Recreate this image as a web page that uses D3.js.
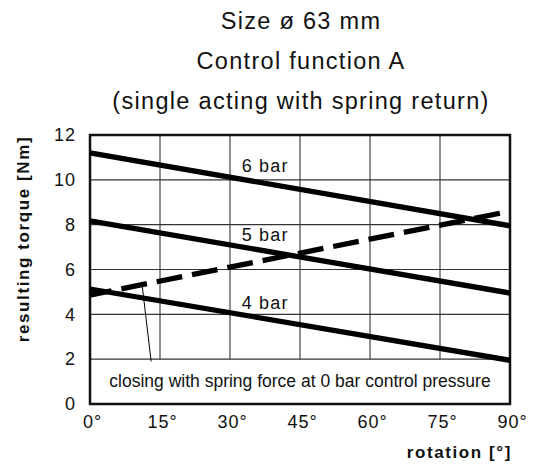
<!DOCTYPE html>
<html>
<head>
<meta charset="utf-8">
<script src="https://cdn.jsdelivr.net/npm/d3@7"></script>
<style>
  body { margin: 0; background: #fff; }
  svg { display: block; font-family: 'Liberation Sans', Arial, Helvetica, sans-serif; }
  .title { font-size: 23.5px; letter-spacing: 1.3px; fill: #111; }
  .tick text { font-size: 18px; letter-spacing: 1px; fill: #111; }
  .axis-label { font-size: 17px; font-weight: bold; letter-spacing: 1.6px; fill: #111; }
  .bar-label { font-size: 18px; letter-spacing: 1.2px; fill: #111; }
  .note { font-size: 17.5px; fill: #111; }
</style>
</head>
<body>
<svg width="533" height="465"></svg>
<script>
(function () {

const titleLines = ['Size ø 63 mm', 'Control function A', '(single acting with spring return)'];

const xTicks = [0, 15, 30, 45, 60, 75, 90];
const yTicks = [0, 2, 4, 6, 8, 10, 12];

// torque at 0° and 90° rotation
const rotation = [0, 90];
const torque6bar = [11.2, 7.95];
const torque5bar = [8.17, 4.95];
const torque4bar = [5.13, 1.95];
const torqueSpring = [4.86, 8.6];

const barSeries = [
  {name: '6 bar', values: torque6bar},
  {name: '5 bar', values: torque5bar},
  {name: '4 bar', values: torque4bar}
];

const noteText = 'closing with spring force at 0 bar control pressure';

const svg = d3.select('svg'),
    margin = {top: 135, right: 23, bottom: 61, left: 90},
    width = +svg.attr('width') - margin.left - margin.right,
    height = +svg.attr('height') - margin.top - margin.bottom;

const x = d3.scaleLinear().domain([0, 90]).range([0, width]);
const y = d3.scaleLinear().domain([0, 12]).range([height, 0]);

// titles
svg.selectAll('.title')
  .data(titleLines)
  .enter().append('text')
    .attr('class', 'title')
    .attr('x', margin.left + width / 2 + 1)
    .attr('y', function(d, i) { return 29 + i * 40; })
    .attr('text-anchor', 'middle')
    .text(function(d) { return d; });

const g = svg.append('g')
  .attr('transform', 'translate(' + margin.left + ',' + margin.top + ')');

// grid
g.append('g').selectAll('line')
  .data(yTicks.filter(function(d) { return d > 0 && d < 12; }))
  .enter().append('line')
    .attr('x1', 0).attr('x2', width)
    .attr('y1', function(d) { return y(d); })
    .attr('y2', function(d) { return y(d); })
    .attr('stroke', '#333').attr('stroke-width', 1.1);

g.append('g').selectAll('line')
  .data(xTicks.filter(function(d) { return d > 0 && d < 90; }))
  .enter().append('line')
    .attr('x1', function(d) { return x(d); })
    .attr('x2', function(d) { return x(d); })
    .attr('y1', y(2)).attr('y2', y(12))
    .attr('stroke', '#333').attr('stroke-width', 1.1);

// axes (labels only)
g.append('g')
  .attr('transform', 'translate(0,' + height + ')')
  .call(d3.axisBottom(x).tickValues(xTicks).tickSize(0).tickPadding(11)
    .tickFormat(function(d) { return d + '°'; }))
  .call(function(a) { a.select('.domain').remove(); })
  .selectAll('text').attr('dx', 2);

g.append('g')
  .call(d3.axisLeft(y).tickValues(yTicks).tickSize(0).tickPadding(14))
  .call(function(a) { a.select('.domain').remove(); });

svg.selectAll('.tick text').attr('font-family', null).attr('font-size', null);
svg.selectAll('g[font-family]').attr('font-family', null).attr('font-size', null);

// frame
g.append('rect')
  .attr('width', width)
  .attr('height', height)
  .attr('fill', 'none')
  .attr('stroke', '#111')
  .attr('stroke-width', 2.5);

const line = d3.line()
  .x(function(d, i) { return x(rotation[i]); })
  .y(function(d) { return y(d); });

g.selectAll('.bar-line')
  .data(barSeries)
  .enter().append('path')
    .attr('class', 'bar-line')
    .attr('d', function(d) { return line(d.values); })
    .attr('fill', 'none')
    .attr('stroke', '#000')
    .attr('stroke-width', 5.3);

g.append('path')
  .attr('d', line(torqueSpring))
  .attr('fill', 'none')
  .attr('stroke', '#000')
  .attr('stroke-width', 5.3)
  .attr('stroke-dasharray', '26,10')
  .attr('stroke-dashoffset', 4);

// line labels
const labelPos = [10.36, 7.28, 4.22];
g.selectAll('.bar-label')
  .data(barSeries)
  .enter().append('text')
    .attr('class', 'bar-label')
    .attr('x', x(32.5))
    .attr('y', function(d, i) { return y(labelPos[i]); })
    .text(function(d) { return d.name; });

// leader line and note
g.append('line')
  .attr('x1', x(11.2)).attr('y1', y(5.25))
  .attr('x2', x(13.1)).attr('y2', y(1.9))
  .attr('stroke', '#000').attr('stroke-width', 1);

g.append('text')
  .attr('class', 'note')
  .attr('x', width / 2)
  .attr('y', y(0.75))
  .attr('text-anchor', 'middle')
  .text(noteText);

// axis titles
svg.append('text')
  .attr('class', 'axis-label')
  .attr('transform', 'translate(29,' + 239 + ') rotate(-90)')
  .attr('text-anchor', 'middle')
  .text('resulting torque [Nm]');

svg.append('text')
  .attr('class', 'axis-label')
  .attr('x', margin.left + width + 2)
  .attr('y', 458)
  .attr('text-anchor', 'end')
  .text('rotation [°]');

})();
</script>
</body>
</html>
